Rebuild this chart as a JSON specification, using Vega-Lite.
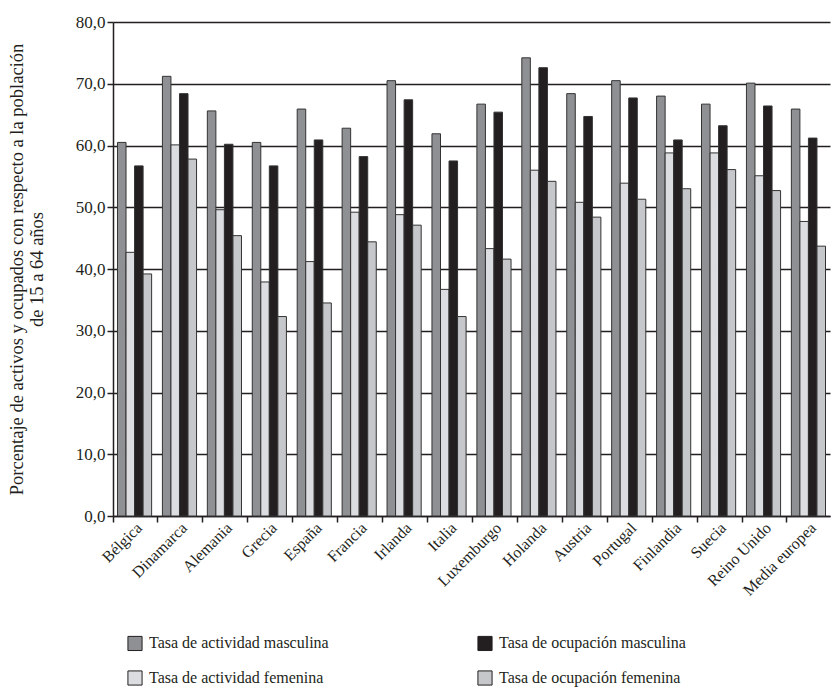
{
  "$schema": "https://vega.github.io/schema/vega-lite/v6.json",
  "width": 717,
  "height": 494,
  "autosize": {"type": "none"},
  "padding": {"left": 113, "top": 22, "right": 2, "bottom": 172},
  "background": "white",
  "config": {
    "font": "Liberation Serif",
    "view": {"stroke": null}
  },
  "data": {
    "values": [
      {"pais": "Bélgica", "serie": "Tasa de actividad masculina", "valor": 60.5},
      {"pais": "Bélgica", "serie": "Tasa de actividad femenina", "valor": 42.7},
      {"pais": "Bélgica", "serie": "Tasa de ocupación masculina", "valor": 56.7},
      {"pais": "Bélgica", "serie": "Tasa de ocupación femenina", "valor": 39.2},
      {"pais": "Dinamarca", "serie": "Tasa de actividad masculina", "valor": 71.2},
      {"pais": "Dinamarca", "serie": "Tasa de actividad femenina", "valor": 60.1},
      {"pais": "Dinamarca", "serie": "Tasa de ocupación masculina", "valor": 68.4},
      {"pais": "Dinamarca", "serie": "Tasa de ocupación femenina", "valor": 57.8},
      {"pais": "Alemania", "serie": "Tasa de actividad masculina", "valor": 65.6},
      {"pais": "Alemania", "serie": "Tasa de actividad femenina", "valor": 49.6},
      {"pais": "Alemania", "serie": "Tasa de ocupación masculina", "valor": 60.2},
      {"pais": "Alemania", "serie": "Tasa de ocupación femenina", "valor": 45.4},
      {"pais": "Grecia", "serie": "Tasa de actividad masculina", "valor": 60.5},
      {"pais": "Grecia", "serie": "Tasa de actividad femenina", "valor": 37.9},
      {"pais": "Grecia", "serie": "Tasa de ocupación masculina", "valor": 56.7},
      {"pais": "Grecia", "serie": "Tasa de ocupación femenina", "valor": 32.3},
      {"pais": "España", "serie": "Tasa de actividad masculina", "valor": 65.9},
      {"pais": "España", "serie": "Tasa de actividad femenina", "valor": 41.2},
      {"pais": "España", "serie": "Tasa de ocupación masculina", "valor": 60.9},
      {"pais": "España", "serie": "Tasa de ocupación femenina", "valor": 34.5},
      {"pais": "Francia", "serie": "Tasa de actividad masculina", "valor": 62.8},
      {"pais": "Francia", "serie": "Tasa de actividad femenina", "valor": 49.2},
      {"pais": "Francia", "serie": "Tasa de ocupación masculina", "valor": 58.2},
      {"pais": "Francia", "serie": "Tasa de ocupación femenina", "valor": 44.4},
      {"pais": "Irlanda", "serie": "Tasa de actividad masculina", "valor": 70.5},
      {"pais": "Irlanda", "serie": "Tasa de actividad femenina", "valor": 48.8},
      {"pais": "Irlanda", "serie": "Tasa de ocupación masculina", "valor": 67.4},
      {"pais": "Irlanda", "serie": "Tasa de ocupación femenina", "valor": 47.1},
      {"pais": "Italia", "serie": "Tasa de actividad masculina", "valor": 61.9},
      {"pais": "Italia", "serie": "Tasa de actividad femenina", "valor": 36.7},
      {"pais": "Italia", "serie": "Tasa de ocupación masculina", "valor": 57.5},
      {"pais": "Italia", "serie": "Tasa de ocupación femenina", "valor": 32.3},
      {"pais": "Luxemburgo", "serie": "Tasa de actividad masculina", "valor": 66.7},
      {"pais": "Luxemburgo", "serie": "Tasa de actividad femenina", "valor": 43.3},
      {"pais": "Luxemburgo", "serie": "Tasa de ocupación masculina", "valor": 65.4},
      {"pais": "Luxemburgo", "serie": "Tasa de ocupación femenina", "valor": 41.6},
      {"pais": "Holanda", "serie": "Tasa de actividad masculina", "valor": 74.2},
      {"pais": "Holanda", "serie": "Tasa de actividad femenina", "valor": 56.0},
      {"pais": "Holanda", "serie": "Tasa de ocupación masculina", "valor": 72.6},
      {"pais": "Holanda", "serie": "Tasa de ocupación femenina", "valor": 54.2},
      {"pais": "Austria", "serie": "Tasa de actividad masculina", "valor": 68.4},
      {"pais": "Austria", "serie": "Tasa de actividad femenina", "valor": 50.8},
      {"pais": "Austria", "serie": "Tasa de ocupación masculina", "valor": 64.7},
      {"pais": "Austria", "serie": "Tasa de ocupación femenina", "valor": 48.4},
      {"pais": "Portugal", "serie": "Tasa de actividad masculina", "valor": 70.5},
      {"pais": "Portugal", "serie": "Tasa de actividad femenina", "valor": 53.9},
      {"pais": "Portugal", "serie": "Tasa de ocupación masculina", "valor": 67.7},
      {"pais": "Portugal", "serie": "Tasa de ocupación femenina", "valor": 51.3},
      {"pais": "Finlandia", "serie": "Tasa de actividad masculina", "valor": 68.0},
      {"pais": "Finlandia", "serie": "Tasa de actividad femenina", "valor": 58.8},
      {"pais": "Finlandia", "serie": "Tasa de ocupación masculina", "valor": 60.9},
      {"pais": "Finlandia", "serie": "Tasa de ocupación femenina", "valor": 53.0},
      {"pais": "Suecia", "serie": "Tasa de actividad masculina", "valor": 66.7},
      {"pais": "Suecia", "serie": "Tasa de actividad femenina", "valor": 58.8},
      {"pais": "Suecia", "serie": "Tasa de ocupación masculina", "valor": 63.2},
      {"pais": "Suecia", "serie": "Tasa de ocupación femenina", "valor": 56.1},
      {"pais": "Reino Unido", "serie": "Tasa de actividad masculina", "valor": 70.1},
      {"pais": "Reino Unido", "serie": "Tasa de actividad femenina", "valor": 55.1},
      {"pais": "Reino Unido", "serie": "Tasa de ocupación masculina", "valor": 66.4},
      {"pais": "Reino Unido", "serie": "Tasa de ocupación femenina", "valor": 52.7},
      {"pais": "Media europea", "serie": "Tasa de actividad masculina", "valor": 65.9},
      {"pais": "Media europea", "serie": "Tasa de actividad femenina", "valor": 47.7},
      {"pais": "Media europea", "serie": "Tasa de ocupación masculina", "valor": 61.2},
      {"pais": "Media europea", "serie": "Tasa de ocupación femenina", "valor": 43.7}
    ]
  },
  "mark": {"type": "bar", "stroke": "#333333", "strokeWidth": 1},
  "encoding": {
    "x": {
      "field": "pais",
      "type": "nominal",
      "sort": null,
      "scale": {"paddingInner": 0.24, "paddingOuter": 0.1},
      "axis": {
        "title": null,
        "labelAngle": -45,
        "labelAlign": "right",
        "labelBaseline": "middle",
        "labelOffset": 5,
        "bandPosition": -0.13,
        "tickSize": 6,
        "tickColor": "#231f20",
        "tickWidth": 1.5,
        "domainColor": "#231f20",
        "domainWidth": 1.5,
        "labelFontSize": 16,
        "labelColor": "#231f20",
        "labelPadding": 3
      }
    },
    "xOffset": {
      "field": "serie",
      "type": "nominal",
      "scale": {
        "domain": ["Tasa de actividad masculina", "Tasa de actividad femenina", "Tasa de ocupación masculina", "Tasa de ocupación femenina"],
        "paddingInner": 0
      }
    },
    "y": {
      "field": "valor",
      "type": "quantitative",
      "scale": {"domain": [0, 80]},
      "axis": {
        "values": [0, 10, 20, 30, 40, 50, 60, 70, 80],
        "labelExpr": "replace(format(datum.value, '.1f'), '.', ',')",
        "grid": true,
        "gridColor": "#231f20",
        "gridWidth": 1.5,
        "tickSize": 6,
        "tickColor": "#231f20",
        "tickWidth": 1.5,
        "domainColor": "#231f20",
        "domainWidth": 1.5,
        "labelFontSize": 17,
        "labelColor": "#231f20",
        "labelPadding": 2,
        "title": ["Porcentaje de activos y ocupados con respecto a la población", "de 15 a 64 años"],
        "titleFontSize": 18.5,
        "titleFontWeight": "normal",
        "titleColor": "#231f20",
        "titleLineHeight": 20,
        "titlePadding": 29
      }
    },
    "color": {
      "field": "serie",
      "type": "nominal",
      "scale": {
        "domain": ["Tasa de actividad masculina", "Tasa de actividad femenina", "Tasa de ocupación masculina", "Tasa de ocupación femenina"],
        "range": ["#8f9094", "#dcdde0", "#231f20", "#c6c7ca"]
      },
      "legend": {
        "title": null,
        "orient": "none",
        "legendX": 14,
        "legendY": 613,
        "columns": 2,
        "columnPadding": 146,
        "rowPadding": 15,
        "labelLimit": 0,
        "symbolType": "square",
        "symbolSize": 200,
        "symbolStrokeColor": "#231f20",
        "symbolStrokeWidth": 1,
        "labelFontSize": 16,
        "labelColor": "#231f20",
        "labelOffset": 6
      }
    }
  }
}
